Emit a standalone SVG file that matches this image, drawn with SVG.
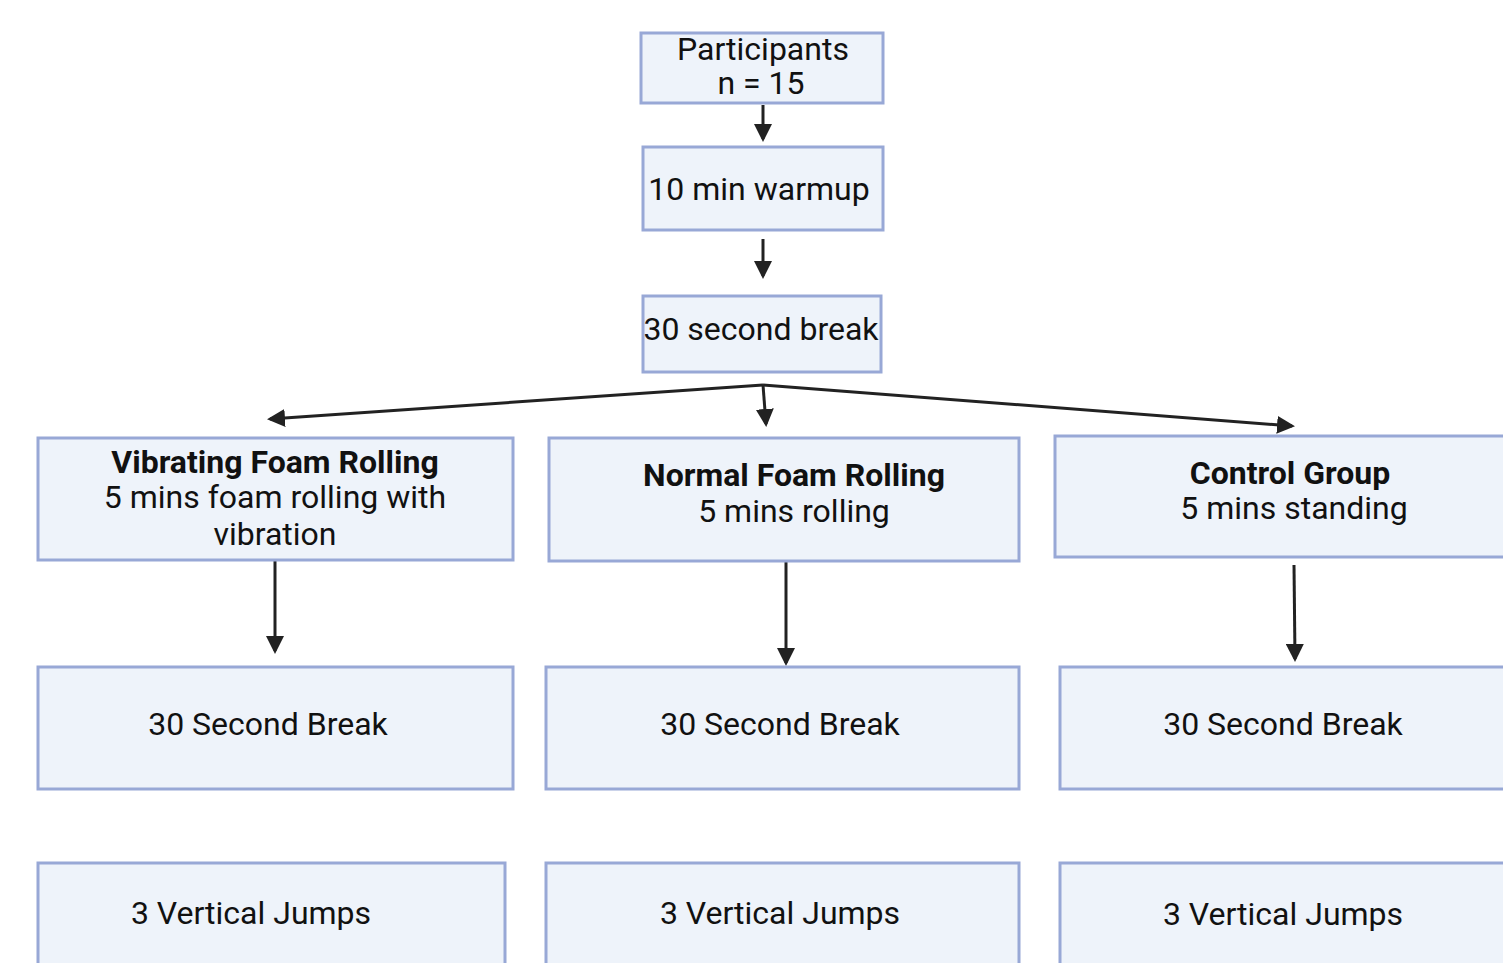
<svg xmlns="http://www.w3.org/2000/svg" width="1503" height="963" viewBox="0 0 1503 963">
<style>
.box{fill:#EEF3FA;stroke:#98A8D6;stroke-width:3}
text{font-family:Roboto,"Liberation Sans",sans-serif;font-size:32px;fill:#111;text-anchor:middle}
.b{font-weight:bold}
.c{stroke:#222;stroke-width:3;fill:none;marker-end:url(#ah)}
</style>
<defs>
<marker id="ah" markerWidth="6" markerHeight="6" refX="5" refY="3" orient="auto" markerUnits="strokeWidth" viewBox="0 0 6 6">
<path d="M0,0 L6,3 L0,6 z" fill="#222"/>
</marker>
</defs>
<rect width="1503" height="963" fill="#fff"/>
<g id="connectors">
<path class="c" d="M763,105 L763,139"/>
<path class="c" d="M763,239 L763,276"/>
<path class="c" d="M763,385 L270,419"/>
<path class="c" d="M763,385 L766,424"/>
<path class="c" d="M763,385 L1292,426"/>
<path class="c" d="M275,557 L275,651"/>
<path class="c" d="M786,557 L786,663"/>
<path class="c" d="M1294,565 L1295,659"/>
</g>
<g id="participants"><rect class="box" x="641" y="33" width="242" height="70"/><text x="763" y="60">Participants</text><text x="761" y="94">n = 15</text></g>
<g id="warmup"><rect class="box" x="643" y="147" width="240" height="83"/><text x="759" y="200">10 min warmup</text></g>
<g id="break1"><rect class="box" x="643" y="296" width="238" height="76"/><text x="761" y="340">30 second break</text></g>
<g id="vibrating"><rect class="box" x="38" y="438" width="475" height="122"/><text class="b" x="275" y="473">Vibrating Foam Rolling</text><text x="275" y="508">5 mins foam rolling with</text><text x="275" y="545">vibration</text></g>
<g id="normal"><rect class="box" x="549" y="438" width="470" height="123"/><text class="b" x="794" y="486">Normal Foam Rolling</text><text x="794" y="522">5 mins rolling</text></g>
<g id="control"><rect class="box" x="1055" y="436" width="452" height="121"/><text class="b" x="1290" y="484">Control Group</text><text x="1294" y="519">5 mins standing</text></g>
<g id="break-vib"><rect class="box" x="38" y="667" width="475" height="122"/><text x="268" y="735">30 Second Break</text></g>
<g id="break-norm"><rect class="box" x="546" y="667" width="473" height="122"/><text x="780" y="735">30 Second Break</text></g>
<g id="break-ctrl"><rect class="box" x="1060" y="667" width="447" height="122"/><text x="1283" y="735">30 Second Break</text></g>
<g id="jumps-vib"><rect class="box" x="38" y="863" width="467" height="120"/><text x="251" y="924">3 Vertical Jumps</text></g>
<g id="jumps-norm"><rect class="box" x="546" y="863" width="473" height="120"/><text x="780" y="924">3 Vertical Jumps</text></g>
<g id="jumps-ctrl"><rect class="box" x="1060" y="863" width="447" height="120"/><text x="1283" y="925">3 Vertical Jumps</text></g>
</svg>
